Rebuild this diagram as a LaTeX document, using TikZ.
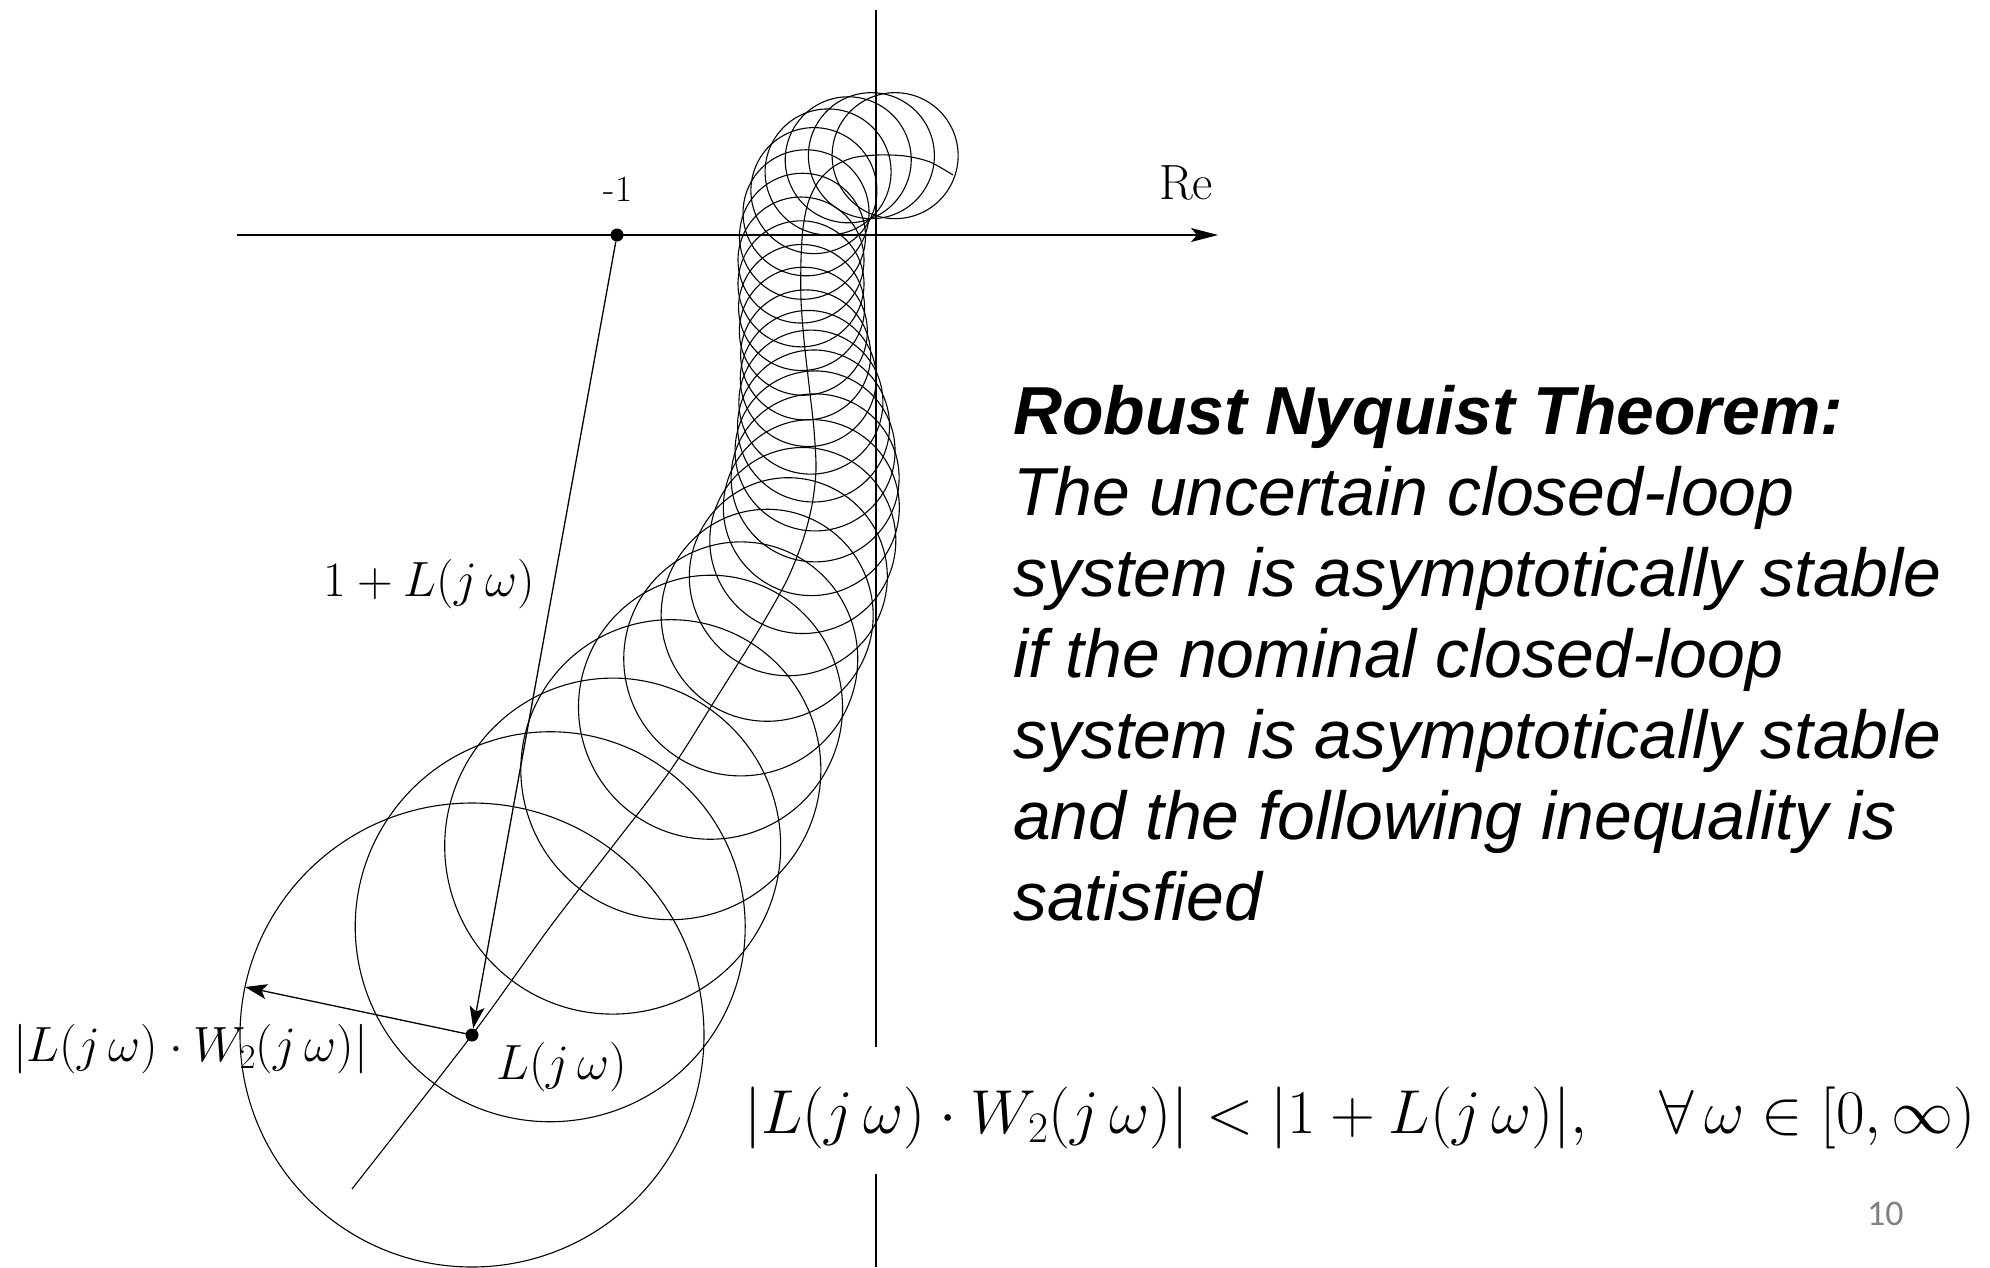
\RequirePackage{fix-cm}
\documentclass[tikz,border=0pt]{standalone}
\usepackage{fontspec}
\newfontfamily\arialfont{Liberation Sans}
\newfontfamily\calfont{Carlito}
\usetikzlibrary{arrows.meta,decorations.markings}
\tikzset{
  circ/.style={line width=1.1pt, black},
  /pgf/decoration/mk/.style args={#1/#2}{mark=at position #1pt with {\draw[circ] (0,0) circle[radius=#2pt];}}
}
\begin{document}
\begin{tikzpicture}[x=1pt,y=-1pt,
  axisline/.style={line width=1.5pt, black},
  vec/.style={line width=1.3pt, -{Stealth[length=22pt,width=15pt,inset=5pt]}},
  dot/.style={circle, fill=black, inner sep=0pt, minimum size=13pt},
  mlabel/.style={inner sep=0pt, font=\fontsize{49.5}{59}\selectfont},
  bodyline/.style={inner sep=0pt, anchor=base west, font=\arialfont\itshape\fontsize{67.9}{81}\selectfont}
]
\useasboundingbox (0,0) rectangle (1990,1267);

% circles along the Nyquist curve
\path[decorate,decoration={markings,
  mk=62/63, mk=85.8/63, mk=109.5/63, mk=133.3/63, mk=157.1/63,
  mk=180.8/63, mk=204.6/63, mk=228.4/63, mk=252.2/63, mk=275.9/63,
  mk=299.7/64, mk=323.5/65, mk=347.2/68, mk=371/72, mk=395/76,
  mk=420/80, mk=447/84, mk=477/88, mk=511/93, mk=550/99,
  mk=594/106, mk=645/117, mk=702/132, mk=776/150, mk=872/168, mk=974/195}]
  (953,175) -- (930,162) -- (905,156) -- (877,155) -- (852,158) -- (833,167)
  -- (818,182) -- (808,203) -- (803,228) -- (801,260) -- (801,300) -- (804,340)
  -- (809,385) -- (814,430) -- (816,470) -- (812,505) -- (803,540) -- (787,580)
  -- (760,628) -- (717,697) -- (670,771) -- (612,847) -- (550,927) -- (472,1035);

% the Nyquist curve
\draw[circ] plot[smooth] coordinates {(953,175) (930,162) (905,156) (877,155) (852,158) (833,167)
  (818,182) (808,203) (803,228) (801,260) (801,300) (804,340)
  (809,385) (814,430) (816,470) (812,505) (803,540) (787,580)
  (760,628) (717,697) (670,771) (612,847) (550,927) (472,1035) (352,1189)};

% axes
\coordinate (xl) at (237,235);
\coordinate (xr) at (1218,235);
\coordinate (yt) at (876,10);
\coordinate (yg1) at (876,1047);
\coordinate (yg2) at (876,1174);
\coordinate (yb) at (876,1267);
\draw[axisline, -{Stealth[length=27pt,width=14pt,inset=6pt]}] (xl) -- (xr);
\draw[axisline] (yt) -- (yg1);
\draw[axisline] (yg2) -- (yb);

% points
\node[dot] (m1) at (617,235) {};
\node[dot] (Lj) at (472,1035) {};
\draw[circ] (Lj) circle[radius=232pt];
\coordinate (rtip) at (245,987);
\draw[vec] (m1) -- (Lj);
\draw[vec] (Lj.center) -- (rtip);

% labels
\node[mlabel, anchor=base west] (re) at (1159,199) {Re};
\node[inner sep=0pt, anchor=base, font=\fontsize{37}{44}\selectfont] (lm1) at (618,201) {-1};
\node[mlabel, anchor=base east] (lab1) at (535,596) {$1+L(j\,\omega)$};
\node[mlabel, anchor=base west] (lab2) at (13,1061) {$|L(j\,\omega)\cdot W_2(j\,\omega)|$};
\node[mlabel, anchor=base west] (lab3) at (496,1079) {$L(j\,\omega)$};
\node[inner sep=0pt, anchor=base west, font=\fontsize{62.1}{74}\selectfont] (ineq) at (744,1133)
  {$|L(j\,\omega)\cdot W_2(j\,\omega)| < |1+L(j\,\omega)|,\quad \forall\,\omega\in[0,\infty)$};

% theorem text
\node[bodyline, font=\arialfont\bfseries\itshape\fontsize{67.9}{81}\selectfont] (t0) at (1013,434) {Robust Nyquist Theorem:};
\node[bodyline] (t1) at (1013,515) {The uncertain closed-loop};
\node[bodyline] (t2) at (1013,596) {system is asymptotically stable};
\node[bodyline] (t3) at (1013,677) {if the nominal closed-loop};
\node[bodyline] (t4) at (1013,758) {system is asymptotically stable};
\node[bodyline] (t5) at (1013,839) {and the following inequality is};
\node[bodyline] (t6) at (1013,920) {satisfied};

\node[inner sep=0pt, anchor=base west, font=\calfont\fontsize{36}{43}\selectfont, text=black!50] (pg) at (1867,1225) {10};
\end{tikzpicture}
\end{document}
